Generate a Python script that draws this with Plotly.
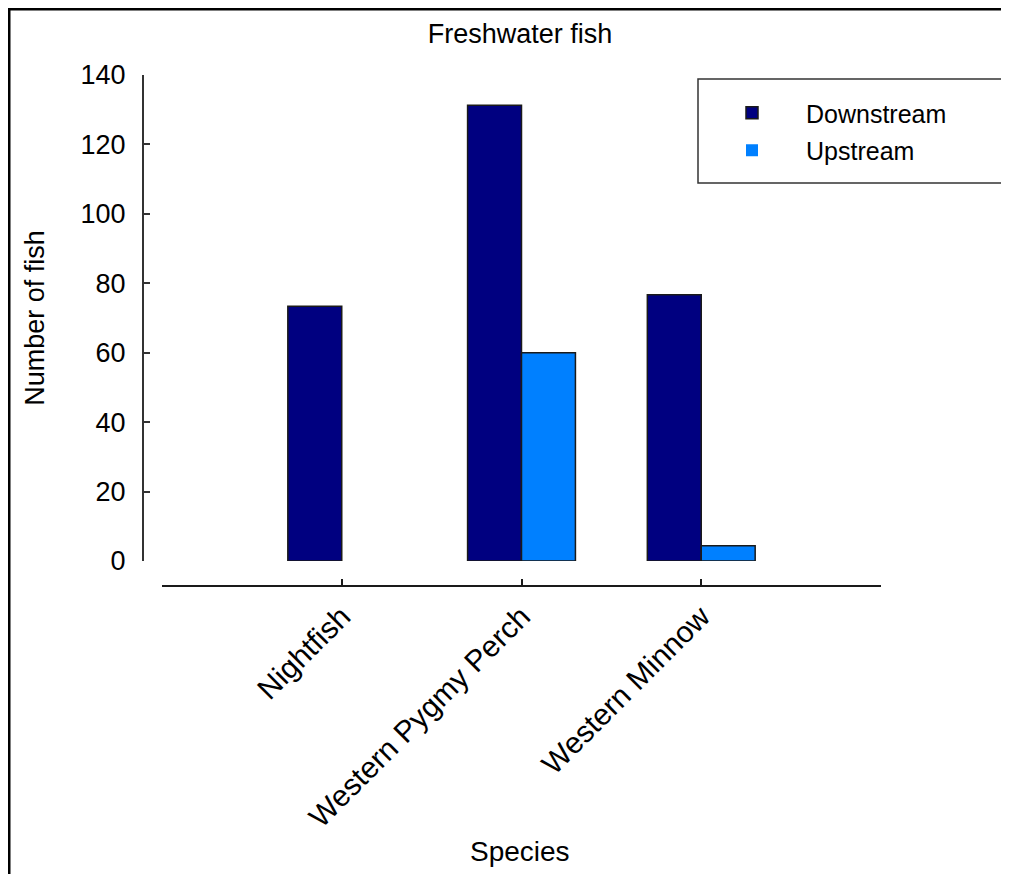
import plotly.graph_objects as go

# ---- data ----
species = ["Nightfish", "Western Pygmy Perch", "Western Minnow"]
downstream = [73.4, 131.3, 76.7]
upstream = [0, 60, 4.4]
y_ticks = [0, 20, 40, 60, 80, 100, 120, 140]

# page has an 8px body margin; figure fills the rest of the 1009x874 window
OFF = 8
W, H = 1009 - OFF, 874 - OFF
FONT = "Liberation Sans, Arial, sans-serif"

def px_x(p):
    return (p - OFF) / W

def px_y(p):
    return (874 - p) / H

fig = go.Figure()
fig.add_trace(go.Bar(
    name="Downstream", x=species, y=downstream,
    marker=dict(color="#000080", line=dict(color="#1a1a1a", width=1.5)),
    legendgroup="d",
))
fig.add_trace(go.Bar(
    name="Upstream", x=species, y=upstream,
    marker=dict(color="#0080FF",
                line=dict(color="#1a1a1a", width=[0, 1.5, 1.5])),
    legendgroup="u",
))

fig.update_layout(
    width=W, height=H,
    margin=dict(l=0, r=0, t=0, b=0),
    paper_bgcolor="white", plot_bgcolor="white",
    font=dict(family=FONT, color="black", size=26),
    barmode="group", bargap=0.4, bargroupgap=0,
    title=dict(text="Freshwater fish", x=px_x(520), xanchor="center",
               y=px_y(34), yanchor="middle", font=dict(size=27)),
    showlegend=True,
    legend=dict(x=px_x(698), xanchor="left", y=px_y(90), yanchor="top",
                bgcolor="rgba(0,0,0,0)", borderwidth=0,
                font=dict(size=25), itemwidth=98,
                traceorder="grouped", tracegroupgap=2),
    xaxis=dict(
        domain=[px_x(162), px_x(881)],
        anchor="free", position=px_y(586),
        range=[-1, 3], type="category",
        showline=True, linecolor="#1a1a1a", linewidth=2,
        ticks="inside", ticklen=6, tickwidth=1.5, tickcolor="#1a1a1a",
        tickangle=-45, tickfont=dict(size=30),
        showgrid=False, zeroline=False, automargin=False,
    ),
    yaxis=dict(
        domain=[px_y(561), px_y(75)],
        anchor="free", position=px_x(143),
        range=[0, 140], tickvals=y_ticks,
        showline=True, linecolor="#333333", linewidth=2,
        ticks="inside", ticklen=6, tickwidth=1.5, tickcolor="#333333",
        tickfont=dict(size=27), ticklabelstandoff=11,
        showgrid=False, zeroline=False, automargin=False,
        title=dict(text="Number of fish", font=dict(size=27), standoff=27),
    ),
    annotations=[
        dict(text="Species", xref="paper", yref="paper",
             x=px_x(520), y=px_y(851), xanchor="center", yanchor="middle",
             showarrow=False, font=dict(size=28)),
    ],
    shapes=[
        dict(type="rect", xref="paper", yref="paper",
             x0=px_x(9), x1=1.2, y0=-0.2, y1=px_y(9),
             line=dict(color="black", width=3), fillcolor="rgba(0,0,0,0)"),
        dict(type="rect", xref="paper", yref="paper",
             x0=px_x(698), x1=1.2, y0=px_y(183), y1=px_y(79),
             line=dict(color="#333333", width=1.5), fillcolor="rgba(0,0,0,0)"),
    ],
)

fig.write_html("out.html")
